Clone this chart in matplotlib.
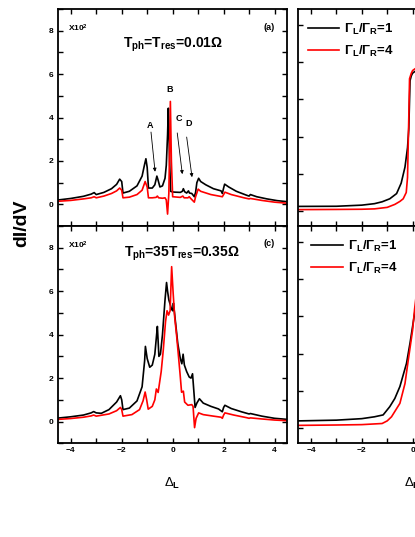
import matplotlib
matplotlib.use('Agg')
import matplotlib.pyplot as plt
from matplotlib.ticker import MultipleLocator

plt.rcParams['font.family'] = ['Liberation Sans', 'DejaVu Sans']
plt.rcParams['font.weight'] = 'bold'
plt.rcParams['mathtext.fontset'] = 'custom'
plt.rcParams['mathtext.rm'] = 'Liberation Sans'
plt.rcParams['mathtext.bf'] = 'Liberation Sans:bold'
plt.rcParams['mathtext.it'] = 'Liberation Sans:italic'

# panel (a): T_ph = T_res = 0.01 Omega
xa_black = [-4.5, -4.0, -3.5, -3.2, -3.08, -3.0, -2.7, -2.4, -2.2, -2.08, -2.0, -1.95,
            -1.7, -1.4, -1.2, -1.1, -1.05, -1.0, -0.95, -0.8, -0.7, -0.62, -0.58, -0.5,
            -0.4, -0.3, -0.25, -0.2, -0.17, -0.12, -0.08, 0.0, 0.1, 0.3, 0.38, 0.42,
            0.47, 0.55, 0.62, 0.66, 0.75, 0.85, 0.9, 0.95, 1.02, 1.1, 1.3, 1.6, 1.9,
            1.95, 2.0, 2.04, 2.2, 2.5, 2.9, 3.0, 3.05, 3.3, 3.7, 4.1, 4.5]
ya_black = [0.2, 0.27, 0.37, 0.47, 0.54, 0.45, 0.55, 0.72, 0.92, 1.16, 1.05, 0.52,
            0.6, 0.85, 1.3, 1.85, 2.1, 1.7, 0.75, 0.75, 0.9, 1.3, 1.15, 0.8,
            0.85, 1.2, 1.8, 3.2, 4.43, 2.0, 0.6, 0.57, 0.56, 0.55, 0.6, 0.72,
            0.58, 0.52, 0.62, 0.52, 0.5, 0.35, 0.55, 1.0, 1.2, 1.05, 0.9, 0.72, 0.62,
            0.5, 0.75, 0.93, 0.8, 0.6, 0.42, 0.38, 0.45, 0.35, 0.25, 0.17, 0.12]

xa_red = [-4.5, -4.0, -3.5, -3.2, -3.08, -3.0, -2.7, -2.4, -2.2, -2.08, -2.0, -1.95,
          -1.7, -1.4, -1.2, -1.08, -1.0, -0.95, -0.8, -0.65, -0.6, -0.55, -0.4, -0.3,
          -0.25, -0.2, -0.15, -0.09, -0.05, 0.0, 0.3, 0.4, 0.45, 0.6, 0.65, 0.7,
          0.85, 0.9, 1.0, 1.1, 1.5, 1.95, 2.0, 2.05, 2.3, 2.8, 3.0, 3.05, 3.5, 4.0, 4.5]
ya_red = [0.14, 0.18, 0.25, 0.3, 0.35, 0.3, 0.38, 0.5, 0.62, 0.75, 0.65, 0.3,
          0.33, 0.45, 0.65, 1.05, 0.8, 0.3, 0.3, 0.32, 0.38, 0.3, 0.28, 0.3,
          0.2, -0.45, 0.5, 4.74, 2.0, 0.35, 0.32, 0.38, 0.3, 0.3, 0.35, 0.28,
          0.1, 0.35, 0.7, 0.6, 0.45, 0.35, 0.45, 0.56, 0.45, 0.3, 0.25, 0.27, 0.18, 0.1, 0.05]

# panel (c): T_ph = 35 T_res = 0.35 Omega
xc_black = [-4.5, -4.0, -3.5, -3.2, -3.1, -3.0, -2.8, -2.5, -2.2, -2.05, -2.0, -1.95,
            -1.7, -1.4, -1.2, -1.1, -1.07, -1.0, -0.9, -0.8, -0.7, -0.63, -0.6, -0.54,
            -0.48, -0.4, -0.3, -0.24, -0.2, -0.15, -0.05, 0.0, 0.03, 0.1, 0.2, 0.3,
            0.36, 0.41, 0.46, 0.55, 0.65, 0.72, 0.78, 0.88, 0.95, 1.05, 1.2, 1.5, 1.8,
            1.95, 2.0, 2.05, 2.3, 2.7, 3.0, 3.05, 3.5, 4.0, 4.5]
yc_black = [0.16, 0.22, 0.3, 0.4, 0.46, 0.4, 0.38, 0.55, 0.9, 1.19, 1.0, 0.55,
            0.62, 0.95, 1.6, 2.8, 3.46, 2.9, 2.5, 2.6, 3.1, 4.0, 4.38, 3.0,
            3.1, 4.0, 5.6, 6.4, 6.0, 5.6, 5.2, 5.1, 5.45, 4.7, 3.6, 2.9,
            2.66, 3.1, 2.6, 2.3, 2.05, 2.0, 2.2, 0.65, 0.85, 1.05, 0.85, 0.7, 0.58,
            0.45, 0.65, 0.75, 0.6, 0.45, 0.35, 0.37, 0.25, 0.15, 0.1]

xc_red = [-4.5, -4.0, -3.5, -3.2, -3.1, -3.0, -2.5, -2.2, -2.05, -2.0, -1.95, -1.6,
          -1.3, -1.16, -1.08, -1.02, -0.96, -0.8, -0.7, -0.64, -0.57, -0.45, -0.37,
          -0.28, -0.22, -0.16, -0.1, -0.04, 0.02, 0.08, 0.16, 0.29, 0.35, 0.42, 0.47,
          0.6, 0.75, 0.8, 0.86, 0.92, 1.02, 1.2, 1.6, 1.9, 1.95, 2.0, 2.05, 2.4, 2.9,
          3.0, 3.05, 3.5, 4.0, 4.5]
yc_red = [0.1, 0.14, 0.2, 0.26, 0.3, 0.25, 0.35, 0.5, 0.65, 0.55, 0.25, 0.32,
          0.55, 0.96, 1.36, 1.0, 0.57, 0.7, 1.0, 1.5, 1.34, 2.3, 3.27,
          4.6, 5.1, 4.9, 5.1, 7.13, 5.9, 4.8, 3.9, 2.2, 1.35, 1.4, 0.9,
          0.75, 0.78, 0.7, -0.28, 0.15, 0.4, 0.32, 0.25, 0.2, 0.15, 0.3, 0.4, 0.3, 0.18,
          0.15, 0.17, 0.12, 0.07, 0.04]

# right panels (only the left half is inside the picture)
xb_black = [-4.5, -3.0, -2.0, -1.5, -1.2, -0.9, -0.63, -0.45, -0.3, -0.2, -0.15, -0.1, -0.05, 0.0, 0.1, 0.3]
yb_black = [0.126, 0.13, 0.16, 0.2, 0.25, 0.33, 0.47, 0.75, 1.18, 1.7, 2.2, 3.5, 3.63, 3.7, 3.75, 3.8]
xb_red = [-4.5, -3.0, -2.0, -1.5, -1.0, -0.7, -0.5, -0.37, -0.25, -0.2, -0.15, -0.12, -0.05, 0.0, 0.1, 0.3]
yb_red = [0.04, 0.045, 0.05, 0.06, 0.1, 0.18, 0.26, 0.33, 0.5, 0.9, 2.5, 3.55, 3.7, 3.77, 3.82, 3.85]

xd_black = [-4.5, -3.0, -2.0, -1.5, -1.16, -0.9, -0.7, -0.5, -0.24, -0.1, 0.05, 0.2]
yd_black = [0.2, 0.22, 0.26, 0.31, 0.36, 0.58, 0.8, 1.12, 1.74, 2.29, 2.95, 3.6]
xd_red = [-4.5, -3.0, -2.0, -1.2, -1.0, -0.83, -0.5, -0.3, -0.17, 0.0, 0.08, 0.2]
yd_red = [0.08, 0.09, 0.1, 0.13, 0.2, 0.31, 0.67, 1.2, 1.83, 2.63, 3.2, 3.9]

legend_labels = ['\u0393$_{\\mathbf{L}}$/\u0393$_{\\mathbf{R}}$=1',
                 '\u0393$_{\\mathbf{L}}$/\u0393$_{\\mathbf{R}}$=4']

fig = plt.figure(figsize=(4.15, 5.37), dpi=100)
ax_a = fig.add_axes([0.1398, 0.5791, 0.5525, 0.4041])
ax_c = fig.add_axes([0.1398, 0.1745, 0.5525, 0.4046])
ax_b = fig.add_axes([0.7188, 0.5791, 0.5508, 0.4041])
ax_d = fig.add_axes([0.7188, 0.1745, 0.5508, 0.4046])


def style(ax, ymaj, ymin, lo, hi, labelx):
    ax.set_xlim(-4.5, 4.5)
    ax.set_ylim(lo, hi)
    ax.xaxis.set_major_locator(MultipleLocator(2))
    ax.xaxis.set_minor_locator(MultipleLocator(1))
    ax.yaxis.set_major_locator(MultipleLocator(ymaj))
    ax.yaxis.set_minor_locator(MultipleLocator(ymin))
    ax.tick_params(which='both', direction='in', top=True, right=True,
                   length=3.5, width=1, labelsize=6, pad=3, labelbottom=labelx)
    for s in ax.spines.values():
        s.set_linewidth(1.3)


for ax, xb, yb, xr, yr in [(ax_a, xa_black, ya_black, xa_red, ya_red),
                           (ax_c, xc_black, yc_black, xc_red, yc_red)]:
    ax.plot(xb, yb, color='black', lw=1.2)
    ax.plot(xr, yr, color='red', lw=1.2)
    style(ax, 2, 1, -1, 9, ax is ax_c)
    ax.text(-4.1, 8.1, 'X10$^{\\mathbf{2}}$', fontsize=6, va='center')

for ax, xb, yb, xr, yr in [(ax_b, xb_black, yb_black, xb_red, yb_red),
                           (ax_d, xd_black, yd_black, xd_red, yd_red)]:
    ax.plot(xb, yb, color='black', lw=1.2, label=legend_labels[0])
    ax.plot(xr, yr, color='red', lw=1.2, label=legend_labels[1])
    style(ax, 1, 1, -0.4, 5.42, ax is ax_d)
    ax.tick_params(labelleft=False)

ax_b.legend(loc='upper left', bbox_to_anchor=(0.0, 0.985), frameon=False, fontsize=9.5,
            handlelength=2.4, handletextpad=0.4, labelspacing=0.55, borderaxespad=0.3)
ax_d.legend(loc='upper left', bbox_to_anchor=(0.015, 0.985), frameon=False, fontsize=9.5,
            handlelength=2.4, handletextpad=0.4, labelspacing=0.55, borderaxespad=0.3)

ax_a.text(3.8, 8.15, '(a)', fontsize=6.5, ha='center', va='center')
ax_c.text(3.8, 8.2, '(c)', fontsize=6.5, ha='center', va='center')
ax_a.text(0.0, 7.35, 'T$_{\\mathbf{ph}}$=T$_{\\mathbf{res}}$=0.01\u03a9', fontsize=10,
          ha='center', va='center')
ax_c.text(0.35, 7.7, 'T$_{\\mathbf{ph}}$=35T$_{\\mathbf{res}}$=0.35\u03a9', fontsize=10,
          ha='center', va='center')

# peak labels and arrows in panel (a)
ax_a.text(-0.89, 3.65, 'A', fontsize=6.5, ha='center', va='center')
ax_a.text(-0.13, 5.28, 'B', fontsize=6.5, ha='center', va='center')
ax_a.text(0.25, 3.97, 'C', fontsize=6.5, ha='center', va='center')
ax_a.text(0.61, 3.74, 'D', fontsize=6.5, ha='center', va='center')
arrow = dict(arrowstyle='-|>', lw=0.6, color='black', mutation_scale=5, shrinkA=0, shrinkB=0)
ax_a.annotate('', xy=(-0.69, 1.5), xytext=(-0.85, 3.33), arrowprops=arrow)
ax_a.annotate('', xy=(0.38, 1.39), xytext=(0.18, 3.29), arrowprops=arrow)
ax_a.annotate('', xy=(0.76, 1.25), xytext=(0.55, 3.1), arrowprops=arrow)

fig.text(0.052, 0.585, 'dI/dV', fontsize=14, rotation=90, ha='center', va='center')
fig.text(0.415, 0.1, '\u0394$_{\\mathrm{L}}$', fontsize=9.5, fontweight='normal',
         ha='center', va='center')
fig.text(0.994, 0.1, '\u0394$_{\\mathrm{L}}$', fontsize=9.5, fontweight='normal',
         ha='center', va='center')

fig.savefig('out.png', dpi=100)
